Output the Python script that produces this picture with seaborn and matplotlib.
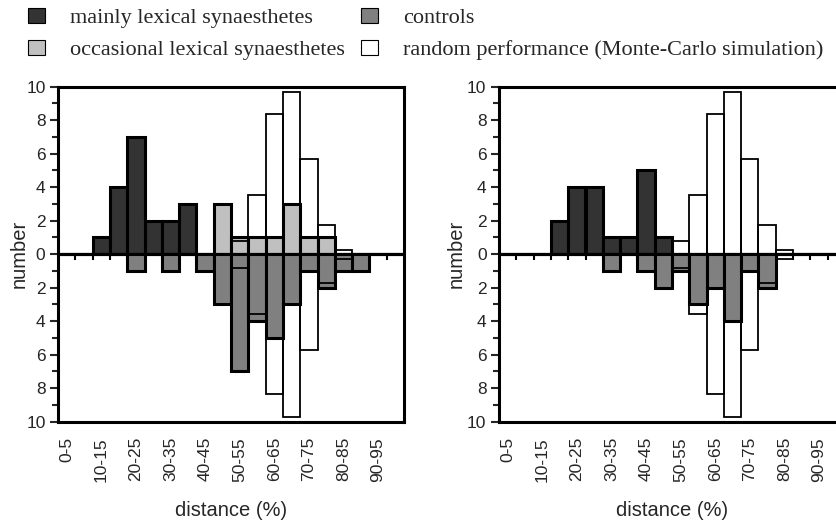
import numpy as np
import pandas as pd
import matplotlib
matplotlib.use("Agg")
import matplotlib.pyplot as plt
from matplotlib.patches import Patch
import seaborn as sns

# ---------------- data ----------------
categories = ["0-5", "5-10", "10-15", "15-20", "20-25", "25-30", "30-35", "35-40",
              "40-45", "45-50", "50-55", "55-60", "60-65", "65-70", "70-75", "75-80",
              "80-85", "85-90", "90-95", "95-100"]

# left panel
left_mainly     = [0, 0, 1, 4, 7, 2, 2, 3, 0, 0, 0, 0, 0, 0, 0, 0, 0, 0, 0, 0]
left_occasional = [0, 0, 0, 0, 0, 0, 0, 0, 0, 3, 1, 1, 1, 3, 1, 1, 0, 0, 0, 0]
left_controls   = [0, 0, 0, 0, 1, 0, 1, 0, 1, 3, 7, 4, 5, 3, 1, 2, 1, 1, 0, 0]

# right panel
right_mainly     = [0, 0, 0, 2, 4, 4, 1, 1, 5, 1, 0, 0, 0, 0, 0, 0, 0, 0, 0, 0]
right_occasional = [0, 0, 0, 0, 0, 0, 0, 0, 0, 0, 0, 0, 0, 0, 0, 0, 0, 0, 0, 0]
right_controls   = [0, 0, 0, 0, 0, 0, 1, 0, 1, 2, 1, 3, 2, 4, 1, 2, 0, 0, 0, 0]

# random performance (Monte-Carlo simulation), same in both panels
random_perf = [0, 0, 0, 0, 0, 0, 0, 0, 0, 0, 0.8, 3.55, 8.35, 9.7, 5.7, 1.72, 0.26, 0, 0, 0]

legend_labels = ["mainly lexical synaesthetes", "occasional lexical synaesthetes",
                 "controls", "random performance (Monte-Carlo simulation)"]
y_ticks = [-10, -8, -6, -4, -2, 0, 2, 4, 6, 8, 10]

# ---------------- style ----------------
sns.set_style("ticks")
plt.rcParams["font.family"] = ["Liberation Sans", "DejaVu Sans"]

C_MAIN = "#333333"
C_OCC = "#c0c0c0"
C_CTRL = "#808080"

W, H = 836, 520
fig = plt.figure(figsize=(W / 100, H / 100), dpi=100)

ax_w = 346 / W
ax_h = 335 / H
ax_b = (H - 421.7) / H
axL = fig.add_axes([58 / W, ax_b, ax_w, ax_h])
axR = fig.add_axes([499 / W, ax_b, ax_w, ax_h])

EDGE_LW = 2.2
RAND_LW = 1.3


def draw_panel(ax, mainly, occasional, controls, ylab_x):
    up_main = pd.DataFrame({"cat": categories, "v": mainly})
    up_occ = pd.DataFrame({"cat": categories, "v": occasional})
    down = pd.DataFrame({"cat": categories, "v": -np.asarray(controls, float)})
    r_up = pd.DataFrame({"cat": categories, "v": random_perf})
    r_dn = pd.DataFrame({"cat": categories, "v": -np.asarray(random_perf, float)})

    kw = dict(x="cat", y="v", order=categories, width=1.0, saturation=1,
              edgecolor="black", linewidth=EDGE_LW, errorbar=None, ax=ax)
    sns.barplot(data=up_main, color=C_MAIN, **kw)
    sns.barplot(data=up_occ, color=C_OCC, **kw)
    sns.barplot(data=down, color=C_CTRL, **kw)
    sns.barplot(data=r_up, x="cat", y="v", order=categories, width=1.0,
                fill=False, color="black", linewidth=RAND_LW, errorbar=None, ax=ax)
    sns.barplot(data=r_dn, x="cat", y="v", order=categories, width=1.0,
                fill=False, color="black", linewidth=RAND_LW, errorbar=None, ax=ax)

    n = len(categories)
    ax.set_xlim(-0.5, n - 0.5)
    ax.set_ylim(-10, 10)

    # zero line with small downward ticks at bin boundaries
    ax.axhline(0, color="black", lw=1.5, zorder=5)
    bounds = np.arange(1, n) - 0.5
    ax.plot(bounds, np.zeros_like(bounds), linestyle="none", marker=3,
            markersize=4.2, markeredgewidth=1.5, color="black", zorder=0.5)

    # x ticks: every other category
    pos = np.arange(0, n, 2)
    ax.set_xticks(pos)
    ax.set_xticklabels([categories[i] for i in pos], rotation=90, fontsize=12.5)
    ax.tick_params(axis="x", length=0, pad=11)

    # y ticks
    ax.set_yticks(y_ticks)
    ax.set_yticklabels([str(abs(t)) for t in y_ticks], fontsize=12.5)
    ax.set_yticks(np.arange(-9, 10, 2), minor=True)
    ax.tick_params(axis="y", which="major", length=6, width=1.5, pad=3, direction="out")
    ax.tick_params(axis="y", which="minor", length=4, width=1.5, direction="out")

    for s in ax.spines.values():
        s.set_visible(True)
        s.set_linewidth(2.2)
        s.set_color("black")

    ax.set_xlabel("distance (%)", fontsize=14.5)
    ax.set_ylabel("number", fontsize=14.5)
    ax.xaxis.set_label_coords(0.5, -0.237)
    ax.yaxis.set_label_coords(ylab_x, 0.5)


draw_panel(axL, left_mainly, left_occasional, left_controls, -0.085)
draw_panel(axR, right_mainly, right_occasional, right_controls, -0.097)

handles = [Patch(facecolor=C_MAIN, edgecolor="black", linewidth=0.8),
           Patch(facecolor=C_OCC, edgecolor="black", linewidth=0.8),
           Patch(facecolor=C_CTRL, edgecolor="black", linewidth=0.8),
           Patch(facecolor="white", edgecolor="black", linewidth=0.8)]
fig.legend(handles, legend_labels, ncol=2, loc="upper left",
           bbox_to_anchor=(28 / W, 1 - 8 / H), frameon=False,
           prop={"family": "Liberation Serif", "size": 16},
           handlelength=0.77, handleheight=0.68, handletextpad=1.1,
           columnspacing=0.75, labelspacing=0.5, borderpad=0, borderaxespad=0)

fig.savefig("out.png", dpi=100)
